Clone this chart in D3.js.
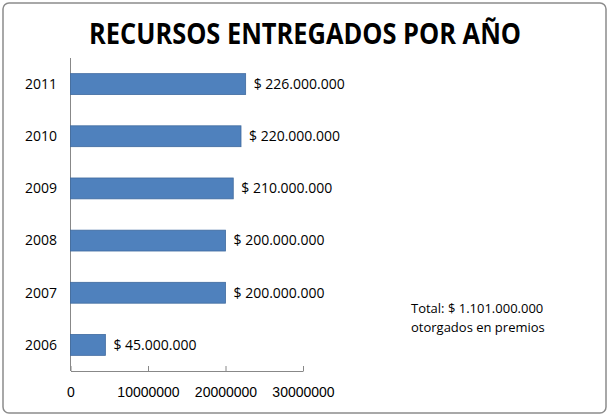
<!DOCTYPE html>
<html><head><meta charset="utf-8">
<script src="https://cdn.jsdelivr.net/npm/d3@7"></script>
<style>body{margin:0;background:#fff}svg{display:block;font-family:"Open Sans",sans-serif}</style>
</head><body><svg id="c" width="610" height="417"></svg>
<script>
// data
const years = ["2011", "2010", "2009", "2008", "2007", "2006"];
const values = [22600000, 22000000, 21000000, 20000000, 20000000, 4500000];
const labels = ["$ 226.000.000", "$ 220.000.000", "$ 210.000.000", "$ 200.000.000", "$ 200.000.000", "$ 45.000.000"];
const ticks = [0, 10000000, 20000000, 30000000];

const svg = d3.select("#c");
svg.append("rect").attr("x", 3).attr("y", 3).attr("width", 603).attr("height", 410)
  .attr("rx", 6).attr("fill", "#fff").attr("stroke", "#8c8c8c").attr("stroke-width", 1.5);

svg.append("text").attr("x", 305).attr("y", 44).attr("text-anchor", "middle")
  .attr("font-size", 29).attr("font-weight", "bold").attr("fill", "#000")
  .attr("textLength", 432).attr("lengthAdjust", "spacingAndGlyphs")
  .text("RECURSOS ENTREGADOS POR AÑO");

const x = d3.scaleLinear().domain([0, 30000000]).range([70.5, 303]);
const y = d3.scaleBand().domain(years).range([58, 371]).paddingInner(0.6).paddingOuter(0.3);

const g = svg.append("g");
g.append("line").attr("x1", 70.5).attr("x2", 70.5).attr("y1", 58).attr("y2", 371).attr("stroke", "#888");

const xa = g.append("g").attr("transform", "translate(0,371)")
  .call(d3.axisBottom(x).tickValues(ticks).tickFormat(d3.format("d")).tickSize(5).tickSizeOuter(0));
xa.select(".domain").attr("stroke", "#888");
xa.selectAll("line").attr("stroke", "#888").attr("transform", "translate(0,-5)");
xa.selectAll("text").attr("font-size", 14).attr("fill", "#000").attr("dy", "1.25em");

years.forEach(yr => {
  g.append("text").attr("x", 57).attr("y", y(yr) + y.bandwidth() / 2).attr("dy", "0.35em")
    .attr("text-anchor", "end").attr("font-size", 14).text(yr);
});

g.selectAll(".bar").data(values).join("rect").attr("class", "bar")
  .attr("x", x(0)).attr("y", (d, i) => y(years[i]))
  .attr("width", d => x(d) - x(0)).attr("height", y.bandwidth())
  .attr("fill", "#4f81bd").attr("stroke", "#3f6a9e").attr("stroke-width", 0.8);

g.selectAll(".lbl").data(values).join("text").attr("class", "lbl")
  .attr("x", d => x(d) + 8).attr("y", (d, i) => y(years[i]) + y.bandwidth() / 2).attr("dy", "0.35em")
  .attr("font-size", 14).text((d, i) => labels[i]);

svg.append("text").attr("x", 411).attr("y", 313).attr("font-size", 13).text("Total: $ 1.101.000.000");
svg.append("text").attr("x", 411).attr("y", 332).attr("font-size", 13).text("otorgados en premios");
</script></body></html>
